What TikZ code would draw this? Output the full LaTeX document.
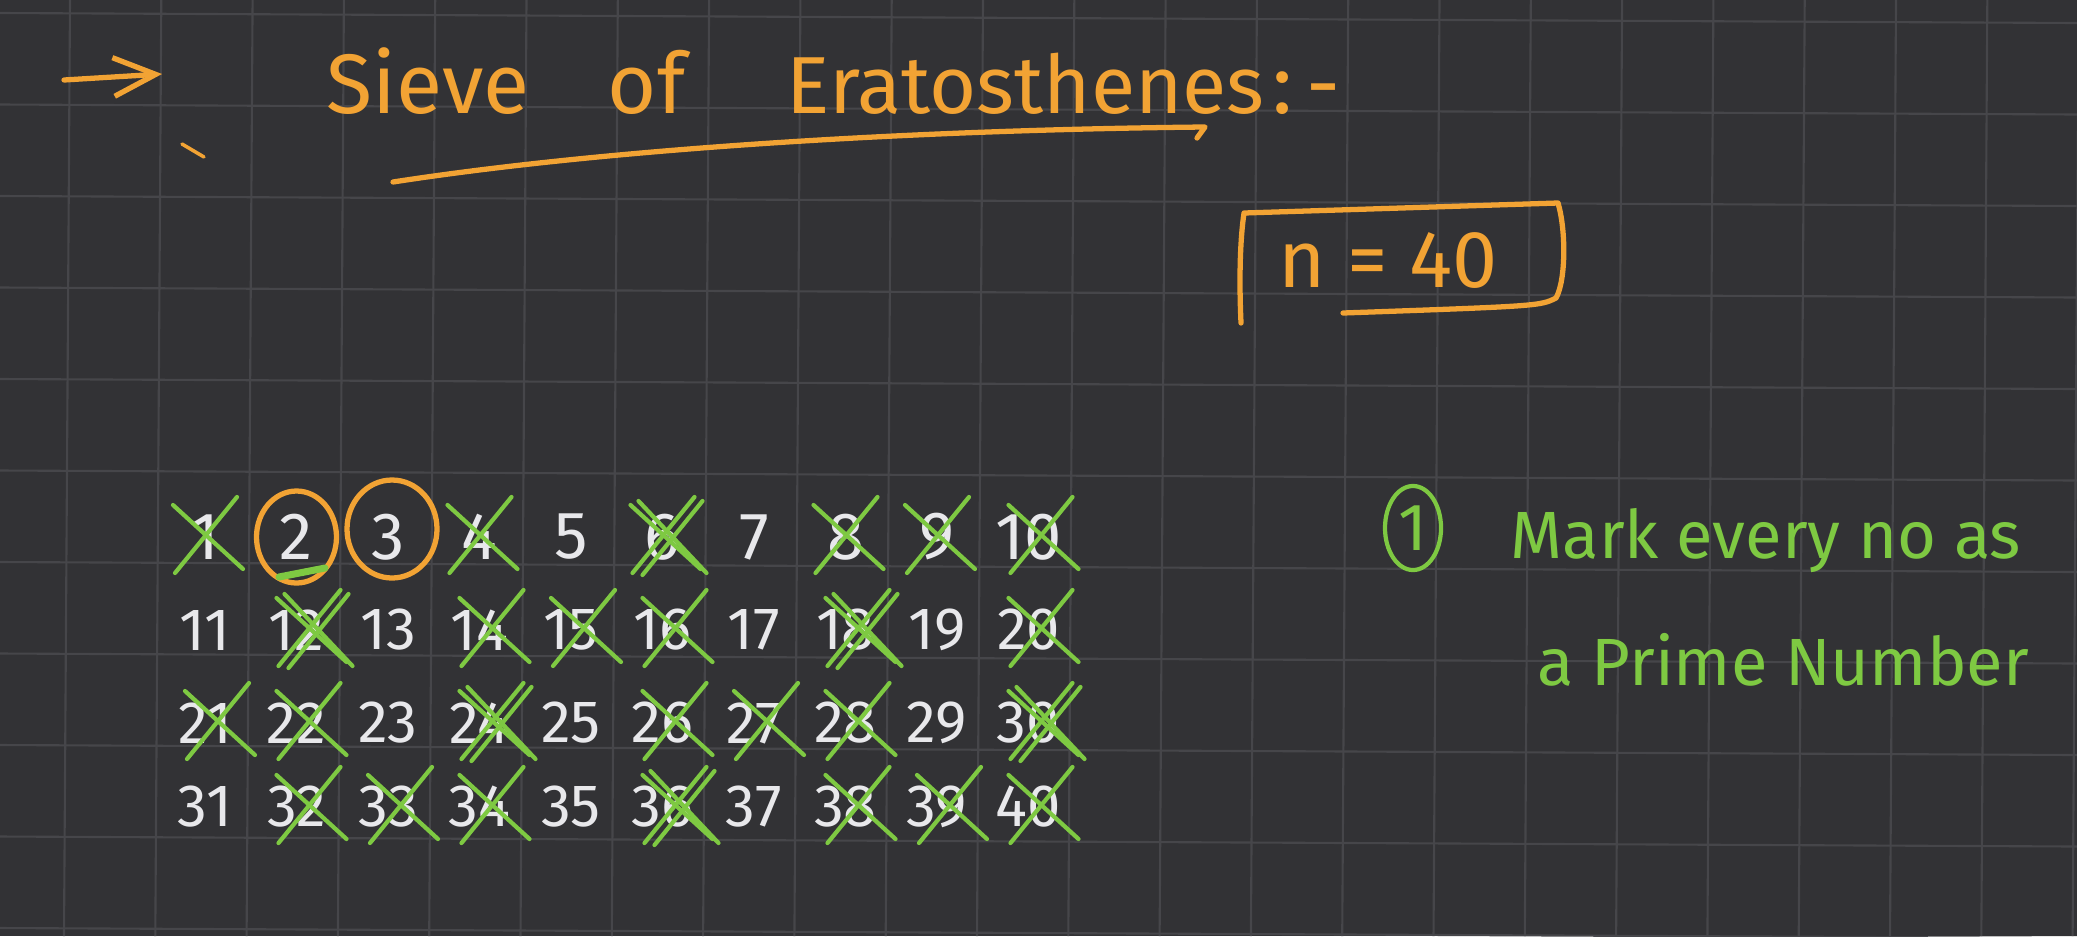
\documentclass[tikz,border=0pt]{standalone}
\usepackage{fontspec}
\setmainfont{Fira Sans}
\usepackage{tikz}
\usetikzlibrary{arrows.meta, shapes.geometric}
\definecolor{board}{RGB}{50,50,53}
\definecolor{rule}{RGB}{70,70,74}
\definecolor{marker}{RGB}{242,163,52}
\definecolor{tick}{RGB}{126,201,66}
\definecolor{chalk}{RGB}{232,232,235}

\begin{document}
\begin{tikzpicture}[x=0.01cm, y=-0.01cm,
  digit/.style={text=chalk, inner sep=0pt},
  ink/.style={marker, line width=1.5pt, line cap=round, line join=round},
  cross/.style={tick, line width=1.2pt, line cap=round},
  title/.style={text=marker, font=\fontsize{24}{28}\selectfont, anchor=base west, inner sep=0pt},
  note/.style={text=tick, font=\fontsize{19}{22}\selectfont, anchor=base west, inner sep=0pt}]
\fill[board] (0,0) rectangle (2077,936);
\useasboundingbox (0,0) rectangle (2077,936);
\foreach \i in {0,...,22} \draw[rule, line width=0.6pt] ({70+91.3*\i},0) -- ++(-6,936);
\foreach \j in {0,...,10} \draw[rule, line width=0.6pt] (0,{13+91.5*\j}) -- ++(2077,10);

\draw[ink, -{Straight Barb[length=12pt, width=11pt]}] (64,80) -- (162,74);
\draw[ink, line width=1pt] (182,144) -- (204,157);
\node[title] (sieve) at (326,113) {Sieve};
\node[title] (of) at (607,113) {of};
\node[title, font=\fontsize{23}{27}\selectfont] (erato) at (786,113) {Eratosthenes};
\node[title] (colon) at (1272,113) {:\kern4pt-};
\draw[ink] (393,182) .. controls (600,150) and (900,130) .. (1205,127) -- (1197,138);

\node[anchor=base west, text=marker, font=\fontsize{23}{26}\selectfont, inner sep=0pt] (nval) at (1278,287) {n = 40};
\draw[ink] (1241,323) .. controls (1239,280) and (1240,240) .. (1244,213) -- (1558,203)
  .. controls (1566,230) and (1566,280) .. (1556,298) .. controls (1540,306) .. (1343,313);

\foreach \r/\y/\s in {0/537/19,1/630/17,2/723/17,3/807/17} {
  \foreach \c in {1,...,10} {
    \pgfmathtruncatemacro\num{10*\r+\c}
    \node[digit, font=\fontsize{\s}{\s}\selectfont] (n\num) at ({205+91.5*(\c-1)},\y) {\num};
  }
}
\draw[ink] (n2.center) ellipse [x radius=40, y radius=46];
\draw[ink] ([shift={(4,-8)}]n3.center) ellipse [x radius=45, y radius=49];
\draw[cross, line width=2pt] (279,577) -- (325,568);

\foreach \num in {1,4,6,8,9,10,12,14,15,16,18,20,21,22,24,26,27,28,30,32,33,34,36,38,39,40} {
  \pgfmathtruncatemacro\dx{\num>9 ? 12 : 0}
  \draw[cross] ([shift={(\dx-30,36)}]n\num.center) -- ([shift={(\dx+32,-40)}]n\num.center)
    ([shift={(\dx-32,-32)}]n\num.center) -- ([shift={(\dx+38,32)}]n\num.center);
  \pgfmathparse{int(mod(\num,6)==0 ? 1 : 0)}
  \ifnum\pgfmathresult=1
    \draw[cross] ([shift={(\dx-20,38)}]n\num.center) -- ([shift={(\dx+40,-36)}]n\num.center)
      ([shift={(\dx-24,-36)}]n\num.center) -- ([shift={(\dx+44,36)}]n\num.center);
  \fi
}

\node[draw=tick, ellipse, line width=1.2pt, text=tick, font=\fontsize{19}{22}\selectfont,
  minimum width=0.56cm, minimum height=0.84cm, inner sep=0pt] (stepone) at (1413,528) {1};
\node[note] (mark) at (1510,558) {Mark every no as};
\node[note] (prime) at (1537,685) {a Prime Number};
\end{tikzpicture}
\end{document}
